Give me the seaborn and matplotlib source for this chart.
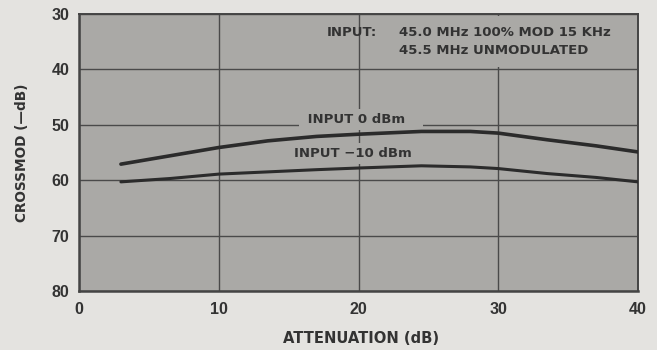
import matplotlib
matplotlib.use("Agg")
import matplotlib.pyplot as plt
import seaborn as sns
import pandas as pd

# Data
atten_0dbm = [3, 6.5, 10, 13.5, 17, 20, 24.5, 28, 30, 33.5, 37, 40]
crossmod_0dbm = [57.1, 55.6, 54.1, 52.9, 52.1, 51.7, 51.2, 51.2, 51.5, 52.7, 53.8, 54.9]
atten_m10dbm = [3, 6.5, 10, 13.5, 17, 20, 24.5, 28, 30, 33.5, 37, 40]
crossmod_m10dbm = [60.3, 59.7, 58.9, 58.5, 58.1, 57.8, 57.4, 57.6, 57.9, 58.8, 59.5, 60.3]
x_ticks = [0, 10, 20, 30, 40]
y_ticks = [30, 40, 50, 60, 70, 80]

sns.set_theme(style="white")
plt.rcParams['font.family'] = ['DejaVu Sans']

bg_out = "#e4e3e0"
bg_in = "#aaa9a6"
ink = "#333333"

fig = plt.figure(figsize=(6.57, 3.5), dpi=100, facecolor=bg_out)
ax = fig.add_axes([79/657, 1 - 291/350, (638-79)/657, (291-14)/350])
ax.set_facecolor(bg_in)

df0 = pd.DataFrame({"x": atten_0dbm, "y": crossmod_0dbm})
df1 = pd.DataFrame({"x": atten_m10dbm, "y": crossmod_m10dbm})
sns.lineplot(data=df0, x="x", y="y", ax=ax, color="#2b2b2b", lw=2.6, zorder=5)
sns.lineplot(data=df1, x="x", y="y", ax=ax, color="#2b2b2b", lw=2.2, zorder=5)

ax.set_xlim(0, 40)
ax.set_ylim(80, 30)
ax.set_xticks(x_ticks)
ax.set_yticks(y_ticks)
ax.set_xticklabels([str(v) for v in x_ticks])
ax.set_yticklabels([str(v) for v in y_ticks])
ax.grid(True, color="#4a4a4a", lw=1.0)
ax.set_axisbelow(True)
for s in ax.spines.values():
    s.set_visible(True)
    s.set_color("#444444")
    s.set_linewidth(1.8)
ax.spines["top"].set_linewidth(1.4)
ax.spines["right"].set_linewidth(1.4)

ax.tick_params(axis="both", length=0, labelcolor=ink)
for lab in ax.get_xticklabels() + ax.get_yticklabels():
    lab.set_fontweight("bold")
    lab.set_fontsize(11.5)
    lab.set_family(['Liberation Sans', 'DejaVu Sans'])
ax.tick_params(axis="x", pad=8)
ax.tick_params(axis="y", pad=7)

ax.set_xlabel("ATTENUATION (dB)", fontsize=10.6, fontweight="bold", color=ink)
ax.xaxis.set_label_coords(0.504, -0.146)
ax.set_ylabel("CROSSMOD (\u2014dB)", fontsize=9.8, fontweight="bold", color=ink)
ax.yaxis.set_label_coords(-0.089, 0.5)

tkw = dict(fontsize=9.5, color=ink, fontweight="bold", zorder=3)
ax.text(17.75, 33.25, "INPUT:", ha="left", va="center", **tkw)
big = dict(facecolor=bg_in, edgecolor="none", boxstyle="square,pad=0.75")
ax.text(22.9, 34.95, "45.0 MHz 100% MOD 15 KHz\n45.5 MHz UNMODULATED",
        ha="left", va="center", multialignment="left", linespacing=1.5,
        bbox=big, **tkw)
small = dict(facecolor=bg_in, edgecolor="none", boxstyle="square,pad=0.3")
ax.text(16.06, 49.1, " INPUT 0 dBm   ", ha="left", va="center", bbox=small, **tkw)
ax.text(15.4, 55.1, "INPUT \u221210 dBm", ha="left", va="center", bbox=small, **tkw)

fig.savefig("out.png", dpi=100, facecolor=bg_out)
